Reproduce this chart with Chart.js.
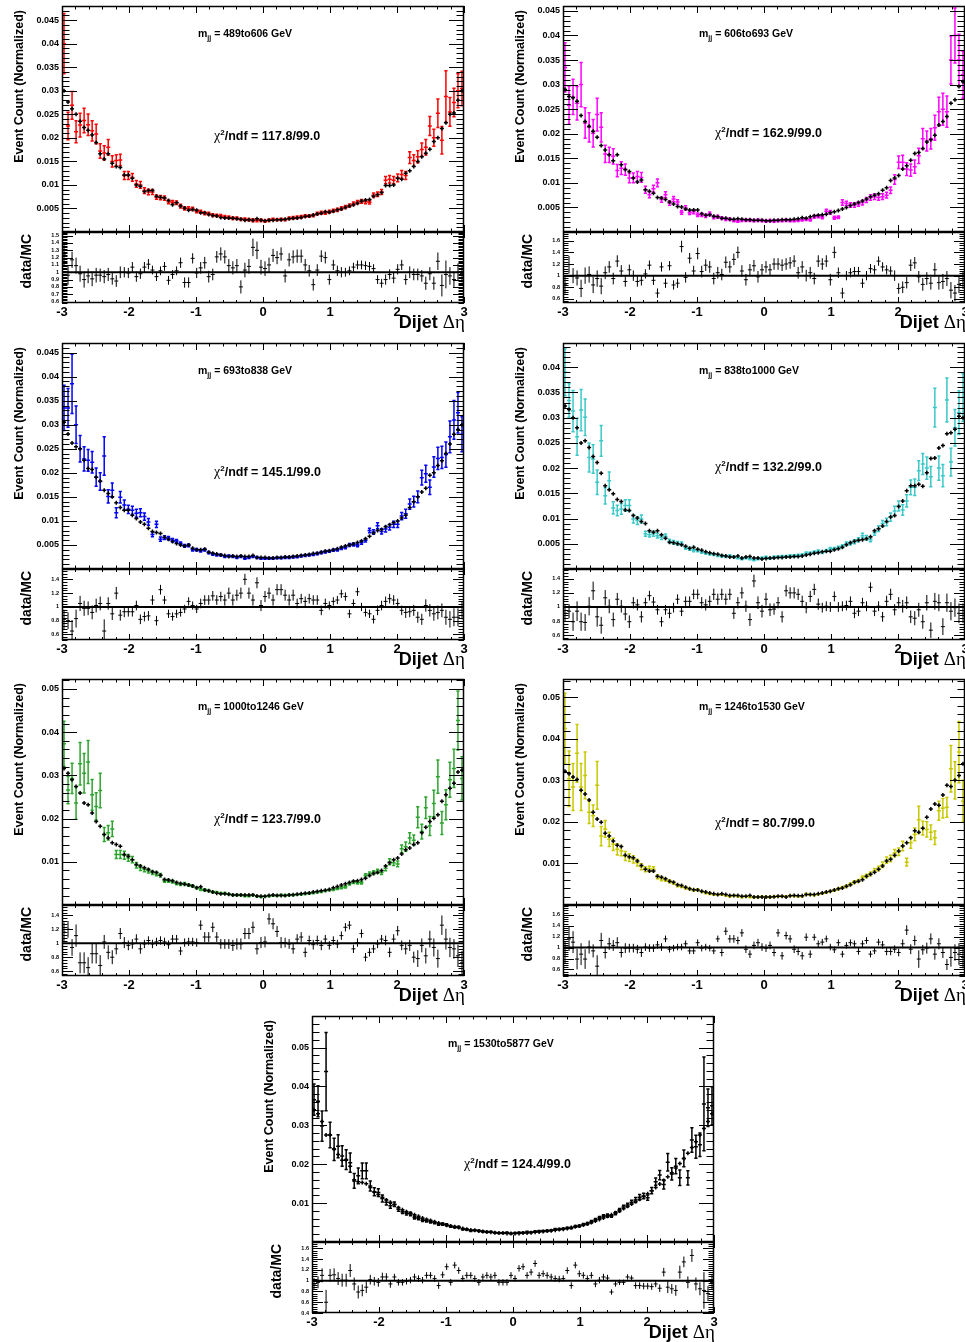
<!DOCTYPE html>
<html>
<head>
<meta charset="utf-8">
<script src="https://cdn.jsdelivr.net/npm/chart.js@4.4.1/dist/chart.umd.min.js"></script>
<style>
  body { margin: 0; background: #fff; }
  #page { position: relative; width: 965px; height: 1342px; overflow: hidden;
          font-family: 'Liberation Sans', Arial, sans-serif; font-weight: bold; color: #000; }
  #page canvas { position: absolute; }
  .txt { position: absolute; white-space: nowrap; }
  .vtxt { position: absolute; white-space: nowrap; writing-mode: vertical-rl; transform: rotate(180deg); }
  .greek { font-family: 'Liberation Serif', 'DejaVu Serif', serif; font-weight: normal; }
</style>
</head>
<body>
<div id="page"></div>
<script>
// 100 bins of dijet delta-eta between -3 and 3
const nBins = 100, etaLo = -3, etaHi = 3;
const binWidth = (etaHi - etaLo) / nBins;
const binCenters = Array.from({length: nBins}, (_, i) => etaLo + binWidth * (i + 0.5));

const massBins = ['489to606', '606to693', '693to838', '838to1000', '1000to1246', '1246to1530', '1530to5877'];
const chi2Labels = ['117.8/99.0', '162.9/99.0', '145.1/99.0', '132.2/99.0', '123.7/99.0', '80.7/99.0', '124.4/99.0'];

// ---- m_jj 489to606 ----
const mc1 = [0.0300,0.0276,0.0262,0.0250,0.0235,0.0222,0.0216,0.0206,0.0190,0.0166,
  0.0155,0.0166,0.0146,0.0139,0.0137,0.0121,0.0121,0.0114,0.0100,0.0097,
  0.0086,0.0088,0.0088,0.0076,0.0074,0.0072,0.0067,0.0058,0.0062,0.0055,
  0.0051,0.0046,0.0048,0.0046,0.0041,0.0041,0.0037,0.0035,0.0034,0.0031,
  0.0030,0.0030,0.0029,0.0028,0.0027,0.0025,0.0026,0.0025,0.0028,0.0025,
  0.0024,0.0025,0.0025,0.0026,0.0026,0.0027,0.0028,0.0029,0.0030,0.0031,
  0.0033,0.0034,0.0036,0.0038,0.0040,0.0043,0.0042,0.0044,0.0047,0.0049,
  0.0052,0.0055,0.0058,0.0061,0.0066,0.0068,0.0069,0.0076,0.0079,0.0084,
  0.0099,0.0099,0.0100,0.0114,0.0112,0.0125,0.0130,0.0139,0.0150,0.0160,
  0.0167,0.0176,0.0192,0.0200,0.0220,0.0232,0.0250,0.0253,0.0280,0.0300];
const data1 = [0.0400,0.0225,0.0269,0.0213,0.0227,0.0237,0.0228,0.0215,0.0208,0.0172,
  0.0168,0.0180,0.0150,0.0152,0.0153,0.0120,0.0120,0.0116,0.0102,0.0100,
  0.0088,0.0085,0.0085,0.0074,0.0073,0.0072,0.0064,0.0063,0.0062,0.0055,
  0.0050,0.0050,0.0049,0.0044,0.0043,0.0040,0.0039,0.0036,0.0035,0.0034,
  0.0032,0.0031,0.0029,0.0029,0.0027,0.0027,0.0026,0.0025,0.0025,0.0025,
  0.0023,0.0025,0.0027,0.0026,0.0027,0.0026,0.0029,0.0030,0.0031,0.0032,
  0.0034,0.0034,0.0035,0.0039,0.0041,0.0041,0.0043,0.0045,0.0047,0.0050,
  0.0053,0.0056,0.0060,0.0063,0.0065,0.0064,0.0063,0.0078,0.0080,0.0085,
  0.0110,0.0112,0.0110,0.0115,0.0122,0.0120,0.0158,0.0152,0.0160,0.0175,
  0.0180,0.0225,0.0200,0.0252,0.0195,0.0288,0.0255,0.0275,0.0300,0.0305];
const ratio1 = [1.25,0.96,1.17,1.09,0.98,0.90,0.95,0.91,0.96,0.96,
  0.94,0.97,0.91,0.88,1.00,1.00,0.99,1.07,0.94,0.98,
  1.07,1.11,1.03,0.94,1.02,1.08,0.89,0.97,1.02,1.13,
  0.86,0.86,1.19,0.99,1.06,1.13,0.94,0.97,1.21,1.25,
  1.21,1.09,1.06,1.09,0.80,1.03,1.08,1.34,1.30,1.07,
  1.05,1.10,1.23,1.20,1.25,0.95,1.17,1.21,1.22,1.22,
  1.10,1.02,0.83,1.03,1.22,1.20,0.90,1.10,1.02,1.00,
  1.00,1.02,1.07,1.10,1.10,1.09,1.08,1.05,0.90,0.85,
  0.90,0.97,0.92,1.04,1.10,0.90,1.00,0.97,0.97,0.95,
  0.85,0.98,0.85,1.15,0.82,0.97,0.95,0.90,1.00,0.98];
// relative errors, percent
const ratioErr1 = [16,13,11,11,11,11,10,10,10,9, 9,9,8,8,8,7,7,7,7,7, 7,7,6,6,6,6,6,6,6,7,
  7,7,7,7,8,8,8,8,8,9, 9,9,9,9,9,10,10,12,12,10, 10,10,9,9,9,9,9,9,9,9,
  8,8,8,8,8,8,7,7,7,7, 6,6,6,6,6,6,6,6,6,6, 7,7,7,7,7,7,8,8,8,8, 9,9,9,12,15,19,12,11,12,12];

// ---- m_jj 606to693 ----
const mc2 = [0.0290,0.0276,0.0273,0.0266,0.0237,0.0225,0.0215,0.0205,0.0193,0.0176,
  0.0167,0.0157,0.0145,0.0157,0.0137,0.0127,0.0123,0.0110,0.0102,0.0106,
  0.0086,0.0083,0.0079,0.0070,0.0069,0.0066,0.0061,0.0057,0.0052,0.0051,
  0.0047,0.0045,0.0045,0.0045,0.0037,0.0034,0.0035,0.0032,0.0031,0.0028,
  0.0028,0.0026,0.0026,0.0027,0.0026,0.0025,0.0025,0.0024,0.0024,0.0024,
  0.0023,0.0023,0.0024,0.0024,0.0025,0.0025,0.0025,0.0026,0.0027,0.0029,
  0.0028,0.0031,0.0033,0.0034,0.0035,0.0036,0.0039,0.0041,0.0044,0.0047,
  0.0050,0.0054,0.0057,0.0060,0.0063,0.0067,0.0072,0.0075,0.0078,0.0085,
  0.0090,0.0105,0.0110,0.0115,0.0128,0.0135,0.0146,0.0160,0.0162,0.0170,
  0.0183,0.0188,0.0197,0.0218,0.0225,0.0235,0.0262,0.0269,0.0296,0.0306];
const data2 = [0.0335,0.0258,0.0275,0.0262,0.0300,0.0222,0.0213,0.0201,0.0239,0.0213,
  0.0159,0.0157,0.0154,0.0125,0.0130,0.0127,0.0110,0.0110,0.0113,0.0111,
  0.0086,0.0076,0.0088,0.0100,0.0066,0.0076,0.0059,0.0067,0.0061,0.0040,
  0.0049,0.0039,0.0041,0.0035,0.0035,0.0033,0.0037,0.0030,0.0031,0.0028,
  0.0026,0.0026,0.0023,0.0022,0.0024,0.0024,0.0024,0.0023,0.0024,0.0023,
  0.0022,0.0023,0.0022,0.0023,0.0023,0.0024,0.0023,0.0023,0.0024,0.0025,
  0.0026,0.0025,0.0031,0.0032,0.0030,0.0042,0.0040,0.0029,0.0030,0.0060,
  0.0058,0.0055,0.0055,0.0057,0.0060,0.0065,0.0070,0.0072,0.0070,0.0072,
  0.0075,0.0085,0.0107,0.0142,0.0142,0.0128,0.0126,0.0133,0.0155,0.0190,
  0.0185,0.0190,0.0212,0.0245,0.0250,0.0245,0.0350,0.0400,0.0350,0.0320];
const ratio2 = [0.84,1.19,1.00,0.96,0.78,1.00,1.02,0.84,0.95,0.82,
  1.05,1.15,0.95,1.25,1.08,0.90,1.10,1.00,0.90,0.92,
  1.03,1.18,0.92,0.70,1.15,0.87,1.17,0.84,0.87,1.50,
  0.97,1.30,1.08,1.38,1.07,1.18,1.15,0.95,1.05,1.02,
  1.23,1.15,1.28,1.40,1.08,0.93,1.10,1.17,0.98,1.10,
  1.15,1.10,1.20,1.20,1.18,1.20,1.22,1.25,1.05,1.15,
  1.00,1.05,0.95,1.25,1.20,1.25,0.93,1.40,1.05,0.70,
  1.00,1.05,1.07,1.07,0.87,1.00,1.12,1.10,1.25,1.15,
  1.10,1.08,1.00,0.78,0.80,0.88,1.18,1.22,0.98,0.85,
  0.95,0.87,1.10,0.88,0.90,0.95,0.75,0.70,0.85,0.92];
const ratioErr2 = [15,15,13,13,15,14,14,14,14,14, 11,10,10,10,10,9,9,9,9,9, 8,8,8,8,8,8,8,8,8,10,
  9,9,9,10,10,10,10,10,10,10, 10,10,10,10,10,10,10,10,10,10, 10,10,10,10,10,10,10,10,10,10,
  10,10,10,10,10,10,10,10,9,9, 8,8,8,8,8,8,8,8,8,8, 8,8,9,9,10,10,10,10,10,11, 11,11,12,12,13,13,14,14,15,15];

// ---- m_jj 693to838 ----
const mc3 = [0.0305,0.0281,0.0262,0.0254,0.0250,0.0226,0.0209,0.0207,0.0191,0.0183,
  0.0164,0.0157,0.0150,0.0138,0.0128,0.0122,0.0122,0.0112,0.0105,0.0098,
  0.0093,0.0085,0.0078,0.0076,0.0074,0.0066,0.0062,0.0057,0.0053,0.0050,
  0.0048,0.0050,0.0043,0.0040,0.0040,0.0041,0.0035,0.0033,0.0031,0.0029,
  0.0028,0.0026,0.0027,0.0026,0.0027,0.0026,0.0026,0.0028,0.0024,0.0024,
  0.0024,0.0023,0.0023,0.0024,0.0024,0.0025,0.0025,0.0026,0.0027,0.0028,
  0.0029,0.0030,0.0032,0.0033,0.0035,0.0037,0.0038,0.0040,0.0042,0.0045,
  0.0048,0.0050,0.0052,0.0055,0.0058,0.0063,0.0068,0.0075,0.0080,0.0082,
  0.0088,0.0092,0.0096,0.0100,0.0106,0.0112,0.0128,0.0140,0.0150,0.0160,
  0.0168,0.0195,0.0200,0.0215,0.0225,0.0240,0.0260,0.0280,0.0290,0.0300];
const data3 = [0.0335,0.0335,0.0385,0.0300,0.0250,0.0229,0.0226,0.0222,0.0191,0.0182,
  0.0235,0.0151,0.0164,0.0117,0.0149,0.0133,0.0124,0.0122,0.0116,0.0117,
  0.0109,0.0098,0.0072,0.0093,0.0062,0.0065,0.0064,0.0060,0.0058,0.0053,
  0.0048,0.0049,0.0040,0.0040,0.0038,0.0040,0.0034,0.0031,0.0029,0.0029,
  0.0026,0.0027,0.0026,0.0024,0.0026,0.0022,0.0024,0.0026,0.0024,0.0022,
  0.0022,0.0022,0.0022,0.0023,0.0023,0.0024,0.0024,0.0025,0.0025,0.0027,
  0.0028,0.0029,0.0030,0.0032,0.0034,0.0036,0.0037,0.0039,0.0040,0.0043,
  0.0045,0.0050,0.0051,0.0049,0.0055,0.0060,0.0080,0.0077,0.0090,0.0078,
  0.0083,0.0087,0.0093,0.0093,0.0110,0.0115,0.0135,0.0140,0.0150,0.0190,
  0.0198,0.0170,0.0212,0.0230,0.0232,0.0238,0.0275,0.0310,0.0325,0.0280];
const ratio3 = [0.82,0.80,0.65,0.83,1.05,0.98,0.98,0.92,1.02,1.05,
  0.65,1.05,0.90,1.20,0.88,0.93,0.93,0.93,1.02,0.82,
  0.86,0.87,1.10,0.80,1.25,1.10,0.90,0.86,0.90,0.92,
  0.97,1.08,1.02,0.97,1.05,1.10,1.10,1.16,1.10,1.15,
  1.10,1.20,1.10,1.17,1.20,1.40,1.20,1.10,1.35,1.02,
  1.15,1.20,1.10,1.25,1.25,1.17,1.10,1.17,1.05,1.12,
  1.08,1.12,1.10,1.10,0.95,1.05,1.02,1.08,1.10,1.19,
  1.15,0.90,1.05,1.22,1.00,0.92,0.90,0.82,0.95,1.02,
  1.08,1.12,1.10,1.05,0.95,0.92,0.93,0.95,0.85,0.82,
  1.02,0.95,0.90,0.92,0.95,0.85,0.82,0.85,0.85,0.95];
const ratioErr3 = [14,12,16,13,11,11,10,10,10,10, 17,9,9,9,8,8,7,7,7,7, 7,7,7,7,7,6,6,6,6,6,
  6,6,6,6,7,7,7,7,7,7, 8,8,8,8,8,8,8,8,8,8, 8,8,8,8,8,8,8,8,7,7,
  7,7,7,7,7,7,6,6,6,6, 6,6,6,6,6,6,6,6,7,7, 7,7,7,7,7,8,8,8,8,8, 9,9,10,10,10,11,12,13,13,13];

// ---- m_jj 838to1000 ----
const mc4 = [0.0323,0.0316,0.0300,0.0280,0.0250,0.0254,0.0241,0.0223,0.0211,0.0190,
  0.0165,0.0157,0.0149,0.0138,0.0134,0.0117,0.0116,0.0106,0.0101,0.0094,
  0.0090,0.0076,0.0073,0.0076,0.0068,0.0061,0.0053,0.0052,0.0050,0.0048,
  0.0045,0.0041,0.0043,0.0039,0.0037,0.0034,0.0032,0.0030,0.0029,0.0027,
  0.0026,0.0024,0.0024,0.0026,0.0022,0.0024,0.0025,0.0022,0.0022,0.0020,
  0.0021,0.0022,0.0022,0.0023,0.0023,0.0024,0.0024,0.0025,0.0025,0.0026,
  0.0028,0.0029,0.0031,0.0032,0.0034,0.0035,0.0035,0.0038,0.0040,0.0043,
  0.0048,0.0052,0.0055,0.0057,0.0058,0.0060,0.0064,0.0076,0.0080,0.0085,
  0.0094,0.0103,0.0106,0.0124,0.0135,0.0155,0.0165,0.0165,0.0168,0.0164,
  0.0191,0.0219,0.0220,0.0240,0.0245,0.0268,0.0270,0.0277,0.0303,0.0300];
const data4 = [0.0390,0.0334,0.0313,0.0262,0.0315,0.0301,0.0221,0.0218,0.0172,0.0254,
  0.0145,0.0175,0.0121,0.0116,0.0119,0.0126,0.0126,0.0099,0.0096,0.0099,
  0.0070,0.0068,0.0070,0.0066,0.0063,0.0065,0.0055,0.0053,0.0051,0.0050,
  0.0042,0.0040,0.0037,0.0037,0.0034,0.0032,0.0030,0.0029,0.0027,0.0026,
  0.0025,0.0026,0.0024,0.0022,0.0020,0.0022,0.0020,0.0018,0.0020,0.0022,
  0.0023,0.0021,0.0024,0.0024,0.0025,0.0025,0.0026,0.0026,0.0027,0.0028,
  0.0031,0.0031,0.0033,0.0035,0.0033,0.0036,0.0040,0.0040,0.0042,0.0045,
  0.0050,0.0051,0.0054,0.0058,0.0066,0.0062,0.0058,0.0072,0.0080,0.0090,
  0.0093,0.0103,0.0115,0.0125,0.0117,0.0135,0.0162,0.0162,0.0195,0.0208,
  0.0200,0.0183,0.0320,0.0200,0.0185,0.0335,0.0212,0.0280,0.0310,0.0340];
const ratio4 = [0.91,0.94,0.79,0.94,0.79,0.78,1.01,1.23,0.86,0.74,
  1.13,1.01,0.82,1.11,1.01,0.90,0.79,1.06,1.03,0.86,
  1.06,1.16,1.07,0.96,0.79,0.96,0.91,0.99,1.11,0.94,
  1.08,1.08,1.18,1.18,1.06,1.03,1.08,1.18,1.11,1.18,
  1.11,1.18,0.91,1.06,1.20,1.01,0.82,1.37,1.06,0.94,
  1.11,0.96,0.97,1.06,0.86,1.23,1.20,1.20,1.18,1.08,
  0.99,1.15,1.25,1.04,0.99,1.01,1.00,1.15,1.00,1.01,
  1.02,1.08,0.91,0.94,1.06,1.01,1.28,0.94,1.01,0.86,
  1.08,1.18,0.96,1.06,1.01,1.06,0.86,0.84,0.96,0.79,
  1.06,0.67,1.08,1.06,0.72,1.06,0.94,0.99,0.91,0.91];
const ratioErr4 = [12,10,13,14,13,12,13,13,14,12, 11,10,10,9,9,9,9,8,8,8, 7,7,7,7,7,7,7,7,7,7,
  7,7,7,7,8,8,8,8,8,8, 8,8,8,8,8,8,9,9,9,9, 9,9,8,8,8,8,8,8,8,8,
  8,8,8,8,7,7,7,7,7,7, 7,7,7,7,7,7,7,7,7,7, 8,8,8,8,9,9,9,10,10,10, 11,11,12,12,12,13,13,13,14,14];

// ---- m_jj 1000to1246 ----
const mc5 = [0.0316,0.0305,0.0290,0.0274,0.0259,0.0236,0.0232,0.0213,0.0193,0.0182,
  0.0163,0.0155,0.0144,0.0140,0.0136,0.0117,0.0113,0.0105,0.0094,0.0090,
  0.0086,0.0082,0.0077,0.0075,0.0069,0.0059,0.0058,0.0056,0.0052,0.0050,
  0.0048,0.0046,0.0044,0.0040,0.0042,0.0035,0.0033,0.0030,0.0027,0.0026,
  0.0026,0.0025,0.0023,0.0023,0.0023,0.0023,0.0023,0.0023,0.0021,0.0020,
  0.0020,0.0022,0.0023,0.0022,0.0022,0.0022,0.0023,0.0024,0.0025,0.0026,
  0.0027,0.0028,0.0030,0.0031,0.0033,0.0034,0.0036,0.0040,0.0043,0.0046,
  0.0049,0.0052,0.0055,0.0056,0.0059,0.0062,0.0068,0.0073,0.0075,0.0080,
  0.0090,0.0098,0.0105,0.0109,0.0118,0.0128,0.0132,0.0140,0.0144,0.0167,
  0.0180,0.0193,0.0201,0.0209,0.0240,0.0255,0.0270,0.0282,0.0308,0.0312];
const data5 = [0.0373,0.0266,0.0293,0.0236,0.0327,0.0305,0.0331,0.0255,0.0228,0.0265,
  0.0163,0.0167,0.0176,0.0117,0.0117,0.0115,0.0109,0.0105,0.0092,0.0086,
  0.0082,0.0079,0.0075,0.0072,0.0069,0.0056,0.0056,0.0054,0.0050,0.0048,
  0.0049,0.0046,0.0044,0.0040,0.0036,0.0035,0.0033,0.0030,0.0029,0.0027,
  0.0027,0.0025,0.0023,0.0023,0.0023,0.0021,0.0021,0.0023,0.0020,0.0019,
  0.0020,0.0021,0.0022,0.0022,0.0023,0.0022,0.0023,0.0023,0.0024,0.0025,
  0.0026,0.0027,0.0028,0.0030,0.0031,0.0033,0.0035,0.0036,0.0038,0.0040,
  0.0042,0.0049,0.0053,0.0052,0.0052,0.0068,0.0072,0.0075,0.0078,0.0075,
  0.0085,0.0100,0.0098,0.0095,0.0130,0.0135,0.0155,0.0150,0.0203,0.0170,
  0.0225,0.0183,0.0235,0.0297,0.0190,0.0232,0.0290,0.0316,0.0427,0.0293];
const ratio5 = [1.16,1.20,0.94,1.11,0.72,0.72,0.65,0.85,0.85,0.68,
  1.02,0.87,0.80,0.92,1.14,1.01,0.97,0.99,1.06,0.92,
  0.99,1.04,0.99,1.02,1.04,1.02,0.98,1.06,1.06,0.89,
  1.01,1.02,1.02,1.01,1.26,1.09,1.09,1.23,1.09,0.99,
  0.99,0.99,0.97,0.99,0.99,1.14,1.14,1.23,0.92,1.01,
  1.02,1.35,1.28,1.17,1.01,1.01,0.99,0.92,1.06,1.09,
  0.87,1.04,0.98,1.04,0.97,1.06,0.97,1.04,0.99,1.11,
  1.23,1.26,0.92,1.01,1.14,0.80,0.87,0.92,0.99,1.06,
  1.04,0.87,1.06,1.18,0.97,0.92,0.97,0.80,0.78,0.97,
  0.82,1.06,0.94,0.78,1.26,1.06,0.94,0.92,0.82,0.72];
const ratioErr5 = [14,12,12,16,15,15,15,14,14,15, 10,10,10,8,8,8,7,7,7,7, 6,6,6,6,6,6,6,6,6,6,
  6,6,6,6,7,7,7,7,7,7, 7,7,8,8,8,8,8,8,8,8, 8,8,8,8,8,7,7,7,7,7,
  7,7,7,7,7,6,6,6,6,6, 6,6,6,6,6,6,6,6,6,6, 7,7,7,7,7,8,8,8,12,10, 11,12,13,13,14,15,14,14,16,17];

// ---- m_jj 1246to1530 ----
const mc6 = [0.0322,0.0316,0.0308,0.0302,0.0276,0.0267,0.0253,0.0223,0.0207,0.0199,
  0.0173,0.0166,0.0154,0.0144,0.0141,0.0120,0.0116,0.0114,0.0106,0.0095,
  0.0086,0.0082,0.0082,0.0069,0.0067,0.0063,0.0057,0.0055,0.0049,0.0047,
  0.0043,0.0039,0.0037,0.0036,0.0033,0.0031,0.0029,0.0027,0.0025,0.0027,
  0.0025,0.0023,0.0023,0.0023,0.0021,0.0021,0.0023,0.0019,0.0019,0.0019,
  0.0019,0.0019,0.0020,0.0021,0.0021,0.0019,0.0022,0.0023,0.0022,0.0022,
  0.0025,0.0025,0.0025,0.0027,0.0029,0.0031,0.0033,0.0036,0.0039,0.0041,
  0.0045,0.0049,0.0055,0.0057,0.0061,0.0069,0.0074,0.0079,0.0086,0.0094,
  0.0106,0.0110,0.0120,0.0130,0.0142,0.0150,0.0162,0.0179,0.0175,0.0185,
  0.0211,0.0231,0.0243,0.0240,0.0265,0.0288,0.0285,0.0300,0.0312,0.0340];
const data6 = [0.0425,0.0304,0.0284,0.0365,0.0284,0.0312,0.0223,0.0215,0.0288,0.0166,
  0.0183,0.0158,0.0146,0.0134,0.0130,0.0118,0.0114,0.0110,0.0102,0.0092,
  0.0086,0.0087,0.0086,0.0068,0.0063,0.0061,0.0057,0.0053,0.0047,0.0045,
  0.0041,0.0039,0.0036,0.0037,0.0032,0.0029,0.0027,0.0025,0.0025,0.0025,
  0.0023,0.0021,0.0023,0.0021,0.0019,0.0021,0.0019,0.0019,0.0019,0.0020,
  0.0019,0.0019,0.0020,0.0021,0.0021,0.0021,0.0022,0.0022,0.0021,0.0021,
  0.0026,0.0025,0.0024,0.0026,0.0028,0.0030,0.0033,0.0035,0.0039,0.0042,
  0.0045,0.0050,0.0055,0.0058,0.0066,0.0070,0.0075,0.0083,0.0088,0.0097,
  0.0108,0.0112,0.0125,0.0128,0.0142,0.0103,0.0150,0.0170,0.0205,0.0185,
  0.0182,0.0175,0.0162,0.0227,0.0233,0.0235,0.0328,0.0300,0.0368,0.0250];
const ratio6 = [0.91,1.16,1.10,0.79,0.88,0.79,1.01,0.94,0.66,1.13,
  0.91,1.07,1.04,1.09,0.91,0.99,0.99,0.99,0.97,0.91,
  1.01,0.99,0.99,1.05,1.01,1.16,0.97,0.99,1.01,1.01,
  1.07,0.94,0.94,1.09,0.99,1.01,0.99,0.94,1.16,0.91,
  1.30,1.16,1.16,1.13,1.27,0.97,0.88,1.04,1.09,1.01,
  0.99,1.04,0.91,1.27,0.85,1.22,1.16,0.97,0.93,0.85,
  1.19,0.88,1.19,1.07,1.10,1.16,1.01,0.96,1.09,0.88,
  1.04,1.09,1.07,0.93,1.07,1.13,0.88,0.94,1.10,1.05,
  0.93,0.93,0.97,0.91,1.07,1.32,0.97,1.13,0.79,0.96,
  0.99,1.16,0.88,1.07,0.91,0.69,0.82,0.91,0.88,0.82];
const ratioErr6 = [20,22,20,19,20,18,12,12,20,14, 11,11,10,10,9,9,8,8,8,8, 7,7,7,7,7,6,6,6,6,6,
  6,6,6,6,6,6,6,6,6,7, 7,7,7,7,7,7,7,7,7,7, 7,7,7,7,7,7,7,7,7,7,
  7,7,6,6,6,6,6,6,6,6, 6,6,6,6,6,6,6,6,6,7, 7,7,7,7,8,9,9,9,16,9, 10,10,10,10,10,10,17,15,20,20];

// ---- m_jj 1530to5877 ----
const mc7 = [0.0340,0.0330,0.0310,0.0275,0.0275,0.0240,0.0225,0.0210,0.0210,0.0195,
  0.0160,0.0155,0.0153,0.0150,0.0140,0.0128,0.0122,0.0115,0.0108,0.0102,
  0.0096,0.0088,0.0083,0.0078,0.0074,0.0070,0.0066,0.0062,0.0058,0.0055,
  0.0052,0.0049,0.0046,0.0043,0.0041,0.0039,0.0037,0.0035,0.0033,0.0031,
  0.0030,0.0028,0.0027,0.0026,0.0025,0.0024,0.0023,0.0023,0.0022,0.0022,
  0.0022,0.0022,0.0023,0.0023,0.0024,0.0025,0.0026,0.0027,0.0028,0.0029,
  0.0030,0.0032,0.0033,0.0035,0.0037,0.0039,0.0041,0.0044,0.0047,0.0050,
  0.0054,0.0058,0.0062,0.0066,0.0070,0.0075,0.0080,0.0086,0.0092,0.0098,
  0.0104,0.0110,0.0117,0.0124,0.0132,0.0140,0.0149,0.0158,0.0168,0.0178,
  0.0190,0.0202,0.0214,0.0228,0.0243,0.0258,0.0275,0.0292,0.0310,0.0330];
const data7 = [0.0366,0.0362,0.0298,0.0438,0.0275,0.0238,0.0246,0.0221,0.0212,0.0204,
  0.0157,0.0170,0.0183,0.0183,0.0144,0.0129,0.0127,0.0112,0.0102,0.0093,
  0.0097,0.0084,0.0078,0.0074,0.0072,0.0063,0.0061,0.0056,0.0055,0.0052,
  0.0050,0.0046,0.0046,0.0044,0.0040,0.0038,0.0038,0.0033,0.0032,0.0029,
  0.0030,0.0029,0.0027,0.0026,0.0026,0.0024,0.0023,0.0023,0.0024,0.0022,
  0.0023,0.0024,0.0024,0.0026,0.0025,0.0027,0.0028,0.0028,0.0029,0.0030,
  0.0033,0.0033,0.0034,0.0036,0.0036,0.0040,0.0041,0.0045,0.0047,0.0052,
  0.0057,0.0062,0.0066,0.0068,0.0067,0.0074,0.0082,0.0090,0.0095,0.0102,
  0.0108,0.0115,0.0118,0.0114,0.0132,0.0155,0.0172,0.0148,0.0205,0.0175,
  0.0195,0.0165,0.0215,0.0165,0.0262,0.0245,0.0250,0.0355,0.0345,0.0350];
const ratio7 = [0.94,0.97,1.10,0.60,1.10,1.11,1.04,1.01,1.01,1.19,
  0.94,0.79,0.82,0.88,1.02,0.99,0.97,1.07,1.07,0.94,
  1.07,0.97,0.97,0.99,1.01,1.07,1.04,1.01,1.10,1.10,
  1.04,0.91,1.11,1.26,0.97,1.29,1.19,1.04,1.10,1.10,
  1.04,0.97,1.07,1.10,1.07,1.10,0.97,0.97,0.97,1.10,
  1.04,1.23,1.26,1.10,1.16,1.32,1.10,1.13,1.10,1.07,
  1.04,1.03,1.04,1.19,0.91,1.29,1.13,1.10,1.04,1.10,
  0.94,1.01,1.07,1.05,0.79,0.94,0.97,0.97,1.07,1.05,
  0.91,0.91,0.90,0.90,0.89,0.94,0.86,1.16,0.88,0.85,
  0.82,1.16,1.35,0.97,1.47,0.94,0.85,0.82,0.76,0.97];
const ratioErr7 = [11,11,13,23,12,12,12,12,12,12, 12,12,11,11,9,8,8,8,7,7, 6,6,6,6,6,6,6,6,6,6,
  6,6,6,6,6,6,6,6,6,6, 6,6,6,6,6,6,6,6,6,6, 6,6,6,6,6,6,6,6,6,6,
  6,6,6,6,6,6,6,6,6,6, 6,6,6,6,5,5,5,5,5,5, 6,6,6,6,6,6,7,8,11,9, 10,12,10,11,12,12,12,34,14,14];

const FONT = "'Liberation Sans', Arial, sans-serif";
const page = document.getElementById('page');

// frame position of each pad, axis ranges, colours
const panels = [
  { left: 62,  top: 6,    color: '#ff0000', yMax: 0.048,  yStep: 0.005, rMin: 0.58, rMax: 1.55, rStep: 0.1, chiY: 127, mc: mc1, data: data1, ratio: ratio1, err: ratioErr1 },
  { left: 563, top: 6,    color: '#ff00ff', yMax: 0.046,  yStep: 0.005, rMin: 0.53, rMax: 1.75, rStep: 0.2, chiY: 124, mc: mc2, data: data2, ratio: ratio2, err: ratioErr2 },
  { left: 62,  top: 343,  color: '#0000ff', yMax: 0.047,  yStep: 0.005, rMin: 0.52, rMax: 1.55, rStep: 0.2, chiY: 126, mc: mc3, data: data3, ratio: ratio3, err: ratioErr3 },
  { left: 563, top: 343,  color: '#3cc8c8', yMax: 0.0448, yStep: 0.005, rMin: 0.53, rMax: 1.54, rStep: 0.2, chiY: 121, mc: mc4, data: data4, ratio: ratio4, err: ratioErr4 },
  { left: 62,  top: 679,  color: '#2ca52c', yMax: 0.0523, yStep: 0.01,  rMin: 0.53, rMax: 1.55, rStep: 0.2, chiY: 137, mc: mc5, data: data5, ratio: ratio5, err: ratioErr5 },
  { left: 563, top: 679,  color: '#c8c800', yMax: 0.0544, yStep: 0.01,  rMin: 0.48, rMax: 1.78, rStep: 0.2, chiY: 141, mc: mc6, data: data6, ratio: ratio6, err: ratioErr6 },
  { left: 312, top: 1016, color: '#000000', yMax: 0.0581, yStep: 0.01,  rMin: 0.40, rMax: 1.72, rStep: 0.2, chiY: 145, mc: mc7, data: data7, ratio: ratio7, err: ratioErr7 }
];

const fmt = v => String(parseFloat(v.toFixed(4)));

// ROOT-like tick positions: majors every `major`, `nsub` subdivisions
function tickList(lo, hi, major, nsub) {
  const minor = major / nsub, out = [];
  for (let k = Math.ceil(lo / minor - 1e-6); k * minor <= hi + 1e-9; k++) {
    out.push({ v: k * minor, major: ((k % nsub) + nsub) % nsub === 0 });
  }
  return out;
}

const rootFrame = {
  id: 'rootFrame',
  afterDatasetsDraw(chart, args, o) {
    const { ctx, chartArea: a } = chart;
    const xs = chart.scales.x, ys = chart.scales.y;
    ctx.save();
    ctx.beginPath();
    ctx.rect(a.left, a.top, a.right - a.left, a.bottom - a.top);
    ctx.clip();
    if (o.refLine != null) {
      const py = ys.getPixelForValue(o.refLine);
      ctx.strokeStyle = '#000'; ctx.lineWidth = 2;
      ctx.beginPath(); ctx.moveTo(a.left, py); ctx.lineTo(a.right, py); ctx.stroke();
    }
    chart.data.datasets.forEach(ds => {
      ctx.strokeStyle = ds.borderColor;
      ctx.lineWidth = ds.borderWidth;
      ctx.beginPath();
      ds.data.forEach(pt => {
        const px = xs.getPixelForValue(pt.x), py = ys.getPixelForValue(pt.y);
        const x0 = xs.getPixelForValue(pt.x - binWidth / 2), x1 = xs.getPixelForValue(pt.x + binWidth / 2);
        let y0, y1;
        if (pt.e != null) { y0 = ys.getPixelForValue(pt.y + pt.e); y1 = ys.getPixelForValue(pt.y - pt.e); }
        else { y0 = py - ds.tick; y1 = py + ds.tick; }
        ctx.moveTo(x0, py); ctx.lineTo(x1, py);
        ctx.moveTo(px, y0); ctx.lineTo(px, y1);
        if (ds.caps) {
          ctx.moveTo(px - 1.6, y0); ctx.lineTo(px + 1.6, y0);
          ctx.moveTo(px - 1.6, y1); ctx.lineTo(px + 1.6, y1);
        }
      });
      ctx.stroke();
    });
    ctx.restore();
  },
  afterDraw(chart, args, o) {
    const { ctx, chartArea: a } = chart;
    const xs = chart.scales.x, ys = chart.scales.y;
    ctx.save();
    ctx.strokeStyle = '#000';
    ctx.lineWidth = 1;
    ctx.beginPath();
    tickList(ys.min, ys.max, o.yMajor, 5).forEach(t => {
      const py = Math.round(ys.getPixelForValue(t.v)) + 0.5;
      const len = t.major ? o.yLen : o.yLen / 2;
      ctx.moveTo(a.left, py); ctx.lineTo(a.left + len, py);
      ctx.moveTo(a.right, py); ctx.lineTo(a.right - len, py);
    });
    tickList(-3, 3, 1, 5).forEach(t => {
      const px = Math.round(xs.getPixelForValue(t.v)) + 0.5;
      const len = t.major ? o.xLen : o.xLen / 2;
      ctx.moveTo(px, a.bottom); ctx.lineTo(px, a.bottom - len);
      ctx.moveTo(px, a.top); ctx.lineTo(px, a.top + len);
    });
    ctx.stroke();
    ctx.lineWidth = 1.5;
    ctx.strokeRect(a.left + 0.5, a.top + 0.5, a.right - a.left - 1, a.bottom - a.top - 1);
    ctx.restore();
  }
};

function makeCanvas(x, y, w, h) {
  const c = document.createElement('canvas');
  c.width = w; c.height = h;
  c.style.left = x + 'px'; c.style.top = y + 'px';
  c.style.width = w + 'px'; c.style.height = h + 'px';
  page.appendChild(c);
  return c;
}

function addText(cls, html, css) {
  const d = document.createElement('div');
  d.className = cls;
  d.innerHTML = html;
  Object.assign(d.style, css);
  page.appendChild(d);
}

function yScale(min, max, step, size) {
  return {
    min: min, max: max,
    afterFit: s => { s.width = 62; },
    grid: { display: false, drawTicks: false },
    border: { display: false },
    ticks: {
      stepSize: step, includeBounds: false, autoSkip: false, padding: 3, color: '#000',
      font: { family: FONT, size: size, weight: 'bold' },
      callback: v => (v < 1e-9 ? '' : fmt(v))
    }
  };
}

const baseOptions = {
  responsive: false, animation: false, devicePixelRatio: 1, events: [],
  elements: { point: { radius: 0, hoverRadius: 0 } }
};

panels.forEach((p, n) => {
  // main pad: data (coloured, with caps) and MC (black crosses)
  new Chart(makeCanvas(p.left - 62, p.top - 10, 472, 246), {
    type: 'scatter',
    data: {
      datasets: [
        { data: p.data.map((v, i) => ({ x: binCenters[i], y: v, e: v * p.err[i] / 100 })),
          borderColor: p.color, borderWidth: 1.5, caps: true },
        { data: p.mc.map((v, i) => ({ x: binCenters[i], y: v })),
          borderColor: '#000', borderWidth: 1.5, tick: 2 }
      ]
    },
    options: Object.assign({}, baseOptions, {
      layout: { padding: { left: 0, right: 8, top: 10, bottom: 10 } },
      plugins: { legend: { display: false }, tooltip: { enabled: false },
                 rootFrame: { yMajor: p.yStep, yLen: 15, xLen: 7 } },
      scales: {
        x: { type: 'linear', min: etaLo, max: etaHi, display: false },
        y: yScale(0, p.yMax, p.yStep, 9)
      }
    }),
    plugins: [rootFrame]
  });

  // ratio pad
  new Chart(makeCanvas(p.left - 62, p.top + 226 - 8, 472, 103), {
    type: 'scatter',
    data: {
      datasets: [
        { data: p.ratio.map((v, i) => ({ x: binCenters[i], y: v, e: p.err[i] / 100 })),
          borderColor: '#000', borderWidth: 1, caps: false }
      ]
    },
    options: Object.assign({}, baseOptions, {
      layout: { padding: { left: 0, right: 8, top: 8, bottom: 0 } },
      plugins: { legend: { display: false }, tooltip: { enabled: false },
                 rootFrame: { yMajor: p.rStep, yLen: 11, xLen: 6, refLine: 1 } },
      scales: {
        x: {
          type: 'linear', min: etaLo, max: etaHi,
          afterFit: s => { s.height = 24; },
          grid: { display: false, drawTicks: false }, border: { display: false },
          ticks: { stepSize: 1, includeBounds: false, autoSkip: false, padding: 2, maxRotation: 0, color: '#000',
                   font: { family: FONT, size: 13, weight: 'bold' }, callback: v => String(v) }
        },
        y: yScale(p.rMin, p.rMax, p.rStep, 5.5)
      }
    }),
    plugins: [rootFrame]
  });

  addText('vtxt', 'Event Count (Normalized)',
    { left: (p.left - 50) + 'px', top: (p.top + 4) + 'px', fontSize: '12.5px', lineHeight: '14px' });
  addText('vtxt', 'data/MC',
    { left: (p.left - 43) + 'px', top: (p.top + 228) + 'px', fontSize: '14px', lineHeight: '15px' });
  addText('txt', 'm<sub style="font-size:7px;vertical-align:-3px">jj</sub> = ' + massBins[n] + ' GeV',
    { left: (p.left + 136) + 'px', top: (p.top + 21) + 'px', fontSize: '10.5px', lineHeight: '13px' });
  addText('txt', '<span class="greek" style="font-size:14px">&chi;</span><sup style="font-size:8px;vertical-align:5px">2</sup>/ndf = ' + chi2Labels[n],
    { left: (p.left + 152) + 'px', top: (p.top + p.chiY - 8) + 'px', fontSize: '12.5px', lineHeight: '15px' });
  addText('txt', 'Dijet <span class="greek" style="font-size:19px">&Delta;&eta;</span>',
    { left: (p.left + 403 - 200) + 'px', top: (p.top + 307) + 'px', width: '200px', textAlign: 'right',
      fontSize: '18px', lineHeight: '18px' });
});
</script>
</body>
</html>
